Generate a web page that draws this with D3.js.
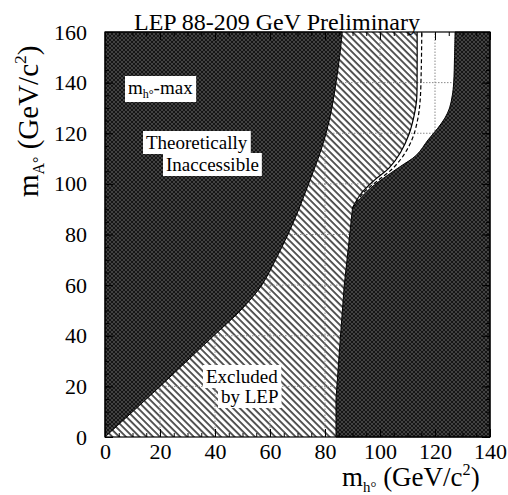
<!DOCTYPE html>
<html>
<head>
<meta charset="utf-8">
<script src="https://cdn.jsdelivr.net/npm/d3@7"></script>
<style>
  body { margin: 0; background: #fff; }
  svg text { font-family: "Liberation Serif", "Times New Roman", serif; }
</style>
</head>
<body>
<div id="chart"></div>
<script>
// LEP mh-max scan: excluded region in the (mh, mA) plane

var width = 508;
var height = 495;
var margin = {left: 105, right: 18, top: 32, bottom: 58};

// boundary of the theoretically inaccessible region on the left (mh, mA)
var leftEdgeMh = [0, 20, 40, 46, 51, 57, 62, 66.5, 70.5, 74, 77.5, 80.4, 82.5, 84, 85.3, 86.3];
var leftEdgeMa = [0, 20, 40.5, 46.5, 52, 60, 70, 80, 90, 100, 110, 120, 130, 140, 150, 160];

// boundary of the theoretically inaccessible region on the right, below and above the kink
var rightLowMh = [84, 84, 85.5, 87, 88.5, 90];
var rightLowMa = [0, 15, 38, 60, 75, 90.5];
var rightHighMh = [90, 95.2, 101.2, 107.3, 113.3, 117.5, 121, 123.6, 125.3, 126.3, 126.8, 127.1, 127.3];
var rightHighMa = [90.5, 97, 102.2, 106.8, 111.4, 117.4, 122, 126, 130, 135, 140, 150, 160];

// observed LEP limit (solid) and expected limit (dashed), above the kink
var observedMh = [90, 93, 98, 103.5, 107.5, 110.5, 112.4, 113.3, 113.5, 113.5];
var observedMa = [90.5, 96, 101.5, 106.5, 112.5, 119.5, 127, 133, 145, 160];
var expectedMh = [90, 94, 99.5, 105, 109, 112, 113.8, 114.6, 115, 115.2];
var expectedMa = [90.5, 96.5, 101.5, 106.5, 112, 118.5, 126, 133, 145, 160];

var xMajor = [0, 20, 40, 60, 80, 100, 120, 140];
var yMajor = [0, 20, 40, 60, 80, 100, 120, 140, 160];
var xGrid = [20, 40, 60, 80, 100, 120];
var yGrid = [20, 40, 60, 80, 100, 120, 140];

var serif = "'Liberation Serif', 'Times New Roman', serif";

function pairs(a, b) { return a.map(function(v, i) { return [v, b[i]]; }); }

var x = d3.scaleLinear().domain([0, 140]).range([margin.left, width - margin.right]);
var y = d3.scaleLinear().domain([0, 160]).range([height - margin.bottom, margin.top]);

var svg = d3.select("#chart").append("svg")
    .attr("width", width)
    .attr("height", height);

var defs = svg.append("defs");

// hatch for the excluded area
var hatch = defs.append("pattern")
    .attr("id", "hatch")
    .attr("patternUnits", "userSpaceOnUse")
    .attr("width", 4.8).attr("height", 10)
    .attr("patternTransform", "rotate(-45)");
hatch.append("line")
    .attr("x1", 1).attr("y1", 0).attr("x2", 1).attr("y2", 10)
    .attr("stroke", "#000").attr("stroke-width", 1.3);

// dark woven texture for the inaccessible areas
var dark = defs.append("pattern")
    .attr("id", "dark")
    .attr("patternUnits", "userSpaceOnUse")
    .attr("width", 4).attr("height", 4);
dark.append("rect").attr("width", 4).attr("height", 4).attr("fill", "#161616");
dark.append("path")
    .attr("d", "M0,0L4,4M4,0L0,4")
    .attr("stroke", "#5a5a5a").attr("stroke-width", 0.65);

var line = d3.line()
    .x(function(d) { return x(d[0]); })
    .y(function(d) { return y(d[1]); });
var smooth = d3.line()
    .x(function(d) { return x(d[0]); })
    .y(function(d) { return y(d[1]); })
    .curve(d3.curveCatmullRom);

var leftEdge = pairs(leftEdgeMh, leftEdgeMa);
var rightLow = pairs(rightLowMh, rightLowMa);
var rightHigh = pairs(rightHighMh, rightHighMa);
var observed = pairs(observedMh, observedMa);
var expected = pairs(expectedMh, expectedMa);

// hatched excluded region: left side up to the observed line, down the lower right edge
var hatchPath = line([[0, 0], [0, 160], [113.5, 160]]) +
    smooth(observed.slice().reverse()).replace(/^M/, "L") +
    line(rightLow.slice().reverse()).replace(/^M/, "L") + "Z";
svg.append("path")
    .attr("d", hatchPath)
    .attr("fill", "url(#hatch)");

// dotted grid
var grid = svg.append("g")
    .attr("stroke", "#8a8a8a")
    .attr("stroke-width", 1)
    .attr("stroke-dasharray", "1.5,1.5");
grid.selectAll(".gx").data(xGrid).enter().append("line")
    .attr("x1", function(d) { return x(d); }).attr("x2", function(d) { return x(d); })
    .attr("y1", y(0)).attr("y2", y(160));
grid.selectAll(".gy").data(yGrid).enter().append("line")
    .attr("y1", function(d) { return y(d); }).attr("y2", function(d) { return y(d); })
    .attr("x1", x(0)).attr("x2", x(140));

// limits
svg.append("path")
    .attr("d", smooth(expected))
    .attr("fill", "none").attr("stroke", "#000")
    .attr("stroke-width", 1.2).attr("stroke-dasharray", "4,2.5");
svg.append("path")
    .attr("d", smooth(observed))
    .attr("fill", "none").attr("stroke", "#000").attr("stroke-width", 1.2);

// inaccessible regions
svg.append("path")
    .attr("d", smooth(leftEdge) + line([[86.3, 160], [0, 160]]).replace(/^M/, "L") + "Z")
    .attr("fill", "url(#dark)")
    .attr("stroke", "#000").attr("stroke-width", 1);

svg.append("path")
    .attr("d", line(rightLow) + smooth(rightHigh).replace(/^M/, "L") +
        line([[127.3, 160], [140, 160], [140, 0]]).replace(/^M/, "L") + "Z")
    .attr("fill", "url(#dark)")
    .attr("stroke", "#000").attr("stroke-width", 1);

// frame
svg.append("rect")
    .attr("x", x(0)).attr("y", y(160))
    .attr("width", x(140) - x(0)).attr("height", y(0) - y(160))
    .attr("fill", "none").attr("stroke", "#000").attr("stroke-width", 1.2);

// axes with inward ticks
var minorX = d3.range(0, 141, 5);
var minorY = d3.range(0, 161, 5);

function styleAxis(g) {
    g.attr("font-family", null);
    g.select(".domain").remove();
    g.selectAll("text").style("font-family", serif).attr("font-size", 22).attr("fill", "#000");
}

svg.append("g").attr("transform", "translate(0," + y(0) + ")")
    .call(d3.axisBottom(x).tickValues(xMajor).tickSize(-8).tickPadding(6).tickFormat(d3.format("d")))
    .call(styleAxis);
svg.append("g").attr("transform", "translate(0," + y(0) + ")")
    .call(d3.axisBottom(x).tickValues(minorX).tickSize(-4).tickFormat(""))
    .call(styleAxis);
svg.append("g").attr("transform", "translate(0," + y(160) + ")")
    .call(d3.axisTop(x).tickValues(xMajor).tickSize(-8).tickFormat(""))
    .call(styleAxis);
svg.append("g").attr("transform", "translate(0," + y(160) + ")")
    .call(d3.axisTop(x).tickValues(minorX).tickSize(-4).tickFormat(""))
    .call(styleAxis);

svg.append("g").attr("transform", "translate(" + x(0) + ",0)")
    .call(d3.axisLeft(y).tickValues(yMajor).tickSize(-8).tickPadding(18).tickFormat(d3.format("d")))
    .call(styleAxis);
svg.append("g").attr("transform", "translate(" + x(0) + ",0)")
    .call(d3.axisLeft(y).tickValues(minorY).tickSize(-4).tickFormat(""))
    .call(styleAxis);
svg.append("g").attr("transform", "translate(" + x(140) + ",0)")
    .call(d3.axisRight(y).tickValues(yMajor).tickSize(-8).tickFormat(""))
    .call(styleAxis);
svg.append("g").attr("transform", "translate(" + x(140) + ",0)")
    .call(d3.axisRight(y).tickValues(minorY).tickSize(-4).tickFormat(""))
    .call(styleAxis);

// title
svg.append("text")
    .attr("x", 277).attr("y", 30)
    .attr("text-anchor", "middle")
    .attr("font-size", 24)
    .style("font-family", serif)
    .text("LEP 88-209 GeV Preliminary");

// axis titles
function massLabel(t, sub, size) {
    t.attr("font-size", size).style("font-family", serif);
    t.append("tspan").text("m");
    t.append("tspan").attr("font-size", size * 0.55).attr("dy", size * 0.22).text(sub + "\u00b0");
    t.append("tspan").attr("dy", -size * 0.22).text(" (GeV/c");
    t.append("tspan").attr("font-size", size * 0.6).attr("dy", -size * 0.42).text("2");
    t.append("tspan").attr("dy", size * 0.42).text(")");
}

svg.append("text")
    .attr("x", 342).attr("y", 486)
    .call(massLabel, "h", 27);

svg.append("text")
    .attr("transform", "translate(38,197) rotate(-90)")
    .call(massLabel, "A", 29);

// labels on white boxes
function boxedLabel(px, py, size, build) {
    var g = svg.append("g");
    var r = g.append("rect").attr("fill", "#fff");
    var t = g.append("text").attr("x", px).attr("y", py)
        .attr("font-size", size).style("font-family", serif);
    build(t);
    var b = t.node().getBBox();
    r.attr("x", b.x - 3).attr("y", b.y - 1).attr("width", b.width + 6).attr("height", b.height + 2);
}

boxedLabel(128, 94, 19, function(t) {
    t.append("tspan").text("m");
    t.append("tspan").attr("font-size", 12).attr("dy", 4).text("h\u00b0");
    t.append("tspan").attr("dy", -4).text("-max");
});
boxedLabel(146, 149, 19, function(t) { t.text("Theoretically"); });
boxedLabel(166, 171, 19, function(t) { t.text("Inaccessible"); });
boxedLabel(206, 383, 19, function(t) { t.text("Excluded"); });
boxedLabel(221, 403, 19, function(t) { t.text("by LEP"); });
</script>
</body>
</html>
